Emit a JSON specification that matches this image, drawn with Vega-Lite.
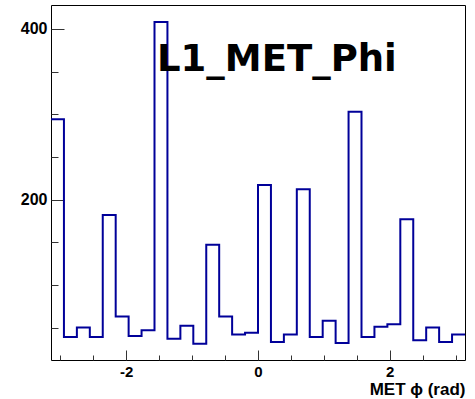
{
  "$schema": "https://vega.github.io/schema/vega-lite/v6.json",
  "width": 414,
  "height": 355,
  "autosize": {"type": "none"},
  "padding": {"left": 51, "top": 5, "right": 10, "bottom": 39},
  "background": "white",
  "title": {
    "text": "L1_MET_Phi",
    "font": "DejaVu Sans",
    "fontWeight": "bold",
    "fontSize": 37,
    "color": "black",
    "anchor": "start",
    "frame": "group",
    "baseline": "alphabetic",
    "offset": 0,
    "dx": 106,
    "dy": 103
  },
  "config": {
    "view": {"stroke": "black", "strokeWidth": 1},
    "axis": {
      "domain": false,
      "grid": false,
      "labelFont": "Liberation Sans",
      "labelFontWeight": "bold",
      "labelFontSize": 16,
      "labelColor": "black",
      "tickColor": "#333333",
      "tickWidth": 1,
      "titleFont": "Liberation Sans",
      "titleFontWeight": "bold",
      "titleFontSize": 17,
      "titleColor": "black"
    }
  },
  "data": {
    "values": [
      {"i": 0, "x0": -3.14159, "x1": -2.94524, "count": 294},
      {"i": 1, "x0": -2.94524, "x1": -2.74889, "count": 39},
      {"i": 2, "x0": -2.74889, "x1": -2.55254, "count": 50},
      {"i": 3, "x0": -2.55254, "x1": -2.35619, "count": 39},
      {"i": 4, "x0": -2.35619, "x1": -2.15984, "count": 182},
      {"i": 5, "x0": -2.15984, "x1": -1.9635, "count": 63},
      {"i": 6, "x0": -1.9635, "x1": -1.76715, "count": 40},
      {"i": 7, "x0": -1.76715, "x1": -1.5708, "count": 47},
      {"i": 8, "x0": -1.5708, "x1": -1.37445, "count": 408},
      {"i": 9, "x0": -1.37445, "x1": -1.1781, "count": 37},
      {"i": 10, "x0": -1.1781, "x1": -0.98175, "count": 52},
      {"i": 11, "x0": -0.98175, "x1": -0.7854, "count": 31},
      {"i": 12, "x0": -0.7854, "x1": -0.58905, "count": 147},
      {"i": 13, "x0": -0.58905, "x1": -0.3927, "count": 63},
      {"i": 14, "x0": -0.3927, "x1": -0.19635, "count": 42},
      {"i": 15, "x0": -0.19635, "x1": 0, "count": 44},
      {"i": 16, "x0": 0, "x1": 0.19635, "count": 217},
      {"i": 17, "x0": 0.19635, "x1": 0.3927, "count": 33},
      {"i": 18, "x0": 0.3927, "x1": 0.58905, "count": 42},
      {"i": 19, "x0": 0.58905, "x1": 0.7854, "count": 212},
      {"i": 20, "x0": 0.7854, "x1": 0.98175, "count": 39},
      {"i": 21, "x0": 0.98175, "x1": 1.1781, "count": 58},
      {"i": 22, "x0": 1.1781, "x1": 1.37445, "count": 32},
      {"i": 23, "x0": 1.37445, "x1": 1.5708, "count": 303},
      {"i": 24, "x0": 1.5708, "x1": 1.76715, "count": 39},
      {"i": 25, "x0": 1.76715, "x1": 1.9635, "count": 51},
      {"i": 26, "x0": 1.9635, "x1": 2.15984, "count": 54},
      {"i": 27, "x0": 2.15984, "x1": 2.35619, "count": 177},
      {"i": 28, "x0": 2.35619, "x1": 2.55254, "count": 35},
      {"i": 29, "x0": 2.55254, "x1": 2.74889, "count": 50},
      {"i": 30, "x0": 2.74889, "x1": 2.94524, "count": 33},
      {"i": 31, "x0": 2.94524, "x1": 3.14159, "count": 42}
    ]
  },
  "transform": [
    {"fold": ["x0", "x1"], "as": ["edge", "x"]}
  ],
  "mark": {"type": "line", "color": "#000099", "strokeWidth": 2, "clip": true},
  "encoding": {
    "x": {
      "field": "x",
      "type": "quantitative",
      "scale": {"domain": [-3.14159, 3.14159], "nice": false, "zero": false},
      "axis": {
        "title": "MET ϕ (rad)",
        "titleAnchor": "end",
        "titleAlign": "right",
        "titleBaseline": "alphabetic",
        "titleX": 414,
        "titleY": 34,
        "values": [-3, -2.5, -2, -1.5, -1, -0.5, 0, 0.5, 1, 1.5, 2, 2.5, 3],
        "labelExpr": "datum.value % 2 === 0 ? (datum.value < 0 ? '-' + abs(datum.value) : '' + datum.value) : ''",
        "tickSize": {"condition": {"test": "datum.value % 2 === 0", "value": -10}, "value": -5},
        "labelFontSize": 15,
        "labelPadding": 14,
        "labelBaseline": "top",
        "labelFlush": false,
        "labelOverlap": false
      }
    },
    "y": {
      "field": "count",
      "type": "quantitative",
      "scale": {"domain": [12, 428], "nice": false, "zero": false},
      "axis": {
        "title": null,
        "values": [50, 100, 150, 200, 250, 300, 350, 400],
        "labelExpr": "datum.value % 200 === 0 ? datum.label : ''",
        "tickSize": {"condition": {"test": "datum.value % 200 === 0", "value": -13}, "value": -7},
        "labelPadding": 17,
        "labelBaseline": "middle",
        "labelFlush": false,
        "labelOverlap": false
      }
    },
    "order": [{"field": "i", "type": "quantitative"}, {"field": "edge", "type": "nominal"}]
  }
}
